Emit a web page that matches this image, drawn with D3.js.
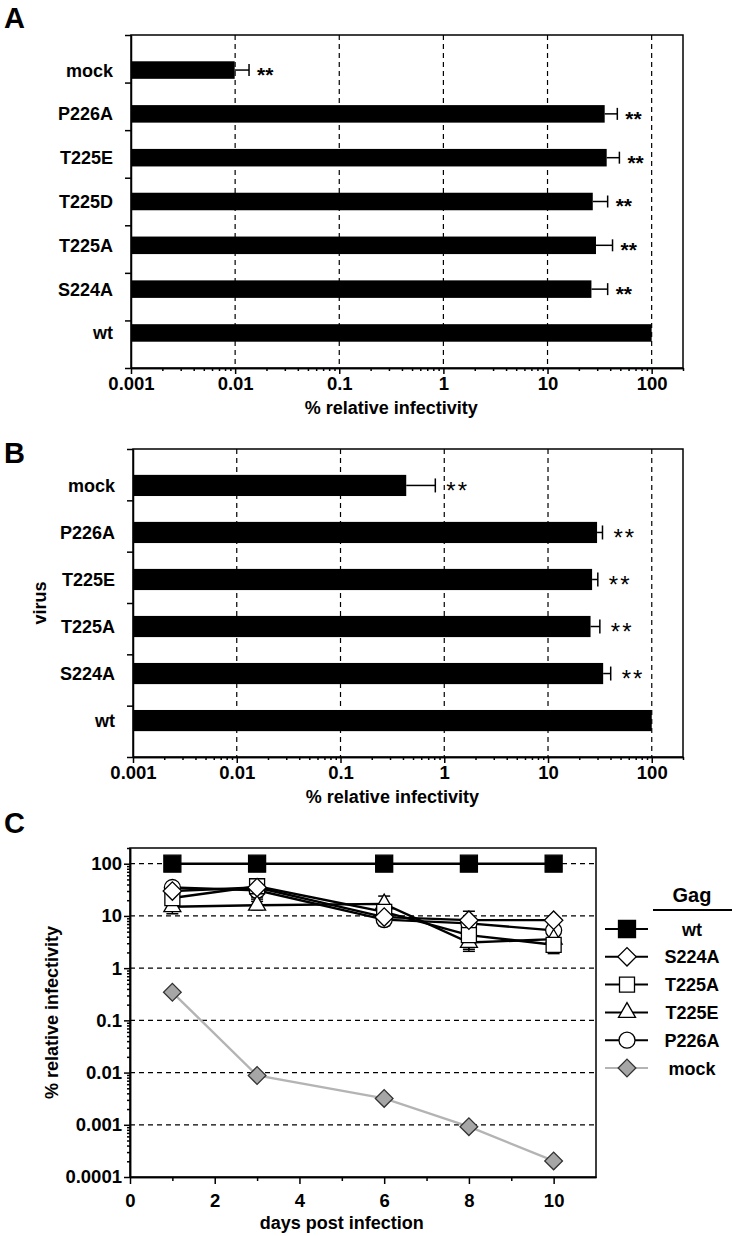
<!DOCTYPE html>
<html>
<head>
<meta charset="utf-8">
<script src="https://d3js.org/d3.v7.min.js"></script>
<style>
body { margin: 0; background: #fff; }
text { font-family: "Liberation Sans", Arial, sans-serif; font-weight: bold; fill: #000; }
</style>
</head>
<body>
<svg id="drawing_region"></svg>
<script>
// ---- panel A data
const categoriesA = ['mock', 'P226A', 'T225E', 'T225D', 'T225A', 'S224A', 'wt'];
const valuesA = [0.0099, 35.4, 37, 27.2, 29.2, 26.4, 100];
const errorsA = [0.0136, 46.8, 49, 37.8, 42.1, 37.8, null];
const starsA = ['**', '**', '**', '**', '**', '**', ''];

// ---- panel B data
const categoriesB = ['mock', 'P226A', 'T225E', 'T225A', 'S224A', 'wt'];
const valuesB = [0.43, 29.7, 26.6, 25.7, 34, 100];
const errorsB = [0.82, 33.5, 30.2, 31.6, 40.2, null];
const starsB = ['**', '**', '**', '**', '**', ''];

const barTicks = [0.001, 0.01, 0.1, 1, 10, 100];
const barTickLabels = ['0.001', '0.01', '0.1', '1', '10', '100'];

// ---- panel C data
const days = [1, 3, 6, 8, 10];
const gagNames = ['wt', 'S224A', 'T225A', 'T225E', 'P226A', 'mock'];
const wtValues = [100, 100, 100, 100, 100];
const s224aValues = [30, 35, 9.5, 8.3, 8.3];
const t225aValues = [22, 37, 12, 4.3, 2.8];
const t225eValues = [15, 16, 17, 3.1, 3.6];
const p226aValues = [35, 31, 8.5, 7.2, 5.3];
const mockValues = [0.345, 0.0088, 0.0032, 0.00092, 0.000203];
const s224aSd = [3, 5, 2, 4, 1];
const t225aSd = [5, 14, 3, 2, 0.9];
const t225eSd = [4, 3, 7, 1, 1];
const p226aSd = [5, 10, 2, 2, 1];
const dayTicks = [0, 2, 4, 6, 8, 10];
const lineTicks = [0.0001, 0.001, 0.01, 0.1, 1, 10, 100];
const lineTickLabels = ['0.0001', '0.001', '0.01', '0.1', '1', '10', '100'];

const svg = d3.select('#drawing_region')
    .attr('width', 736)
    .attr('height', 1236);

function minorLogTicks(lo, hi) {
    let out = [];
    for (let e = Math.floor(Math.log10(lo)); e <= Math.ceil(Math.log10(hi)); e++) {
        for (let k = 2; k <= 9; k++) {
            const v = k * Math.pow(10, e);
            if (v > lo && v <= hi * 1.0001) out.push(v);
        }
    }
    return out;
}

class BarChart {
    constructor(config, data) {
        this.config = config;
        this.data = data;
        this.init();
    }

    init() {
        let self = this;
        const c = self.config;
        self.chart = svg.append('g');

        self.xscale = d3.scaleLog()
            .domain([0.001, 200])
            .range([c.left, c.right]);

        self.yscale = d3.scaleBand()
            .domain(self.data.map(d => d.label))
            .range([c.top, c.bottom])
            .padding(c.padding);

        self.yedges = d3.scaleLinear()
            .domain([0, self.data.length])
            .range([c.top, c.bottom]);
    }

    render() {
        let self = this;
        const c = self.config;
        const g = self.chart;

        // dashed grid
        g.selectAll('.grid')
            .data(barTicks.slice(1))
            .enter()
            .append('line')
            .attr('x1', d => self.xscale(d))
            .attr('x2', d => self.xscale(d))
            .attr('y1', c.top)
            .attr('y2', c.bottom)
            .attr('stroke', '#000')
            .attr('stroke-width', 1.2)
            .attr('stroke-dasharray', '5,4');

        // frame
        g.append('rect')
            .attr('x', c.left).attr('y', c.top)
            .attr('width', c.right - c.left).attr('height', c.bottom - c.top)
            .attr('fill', 'none').attr('stroke', '#000').attr('stroke-width', 1.5);

        // bars
        g.selectAll('.bar')
            .data(self.data)
            .enter()
            .append('rect')
            .attr('x', c.left)
            .attr('y', d => self.yscale(d.label))
            .attr('width', d => self.xscale(d.value) - c.left)
            .attr('height', self.yscale.bandwidth())
            .attr('fill', '#000');

        const yc = d => self.yscale(d.label) + self.yscale.bandwidth() / 2;
        const withErr = self.data.filter(d => d.err != null);

        g.selectAll('.err')
            .data(withErr)
            .enter()
            .append('line')
            .attr('x1', d => self.xscale(d.value))
            .attr('x2', d => self.xscale(d.err))
            .attr('y1', yc).attr('y2', yc)
            .attr('stroke', '#000').attr('stroke-width', 1.5);

        g.selectAll('.cap')
            .data(withErr)
            .enter()
            .append('line')
            .attr('x1', d => self.xscale(d.err))
            .attr('x2', d => self.xscale(d.err))
            .attr('y1', d => yc(d) - c.capH / 2)
            .attr('y2', d => yc(d) + c.capH / 2)
            .attr('stroke', '#000').attr('stroke-width', 1.5);

        g.selectAll('.star')
            .data(withErr)
            .enter()
            .append('text')
            .attr('x', d => self.xscale(d.err) + c.starGap)
            .attr('y', d => yc(d) + c.starSize * 0.57)
            .attr('font-size', c.starSize)
            .style('font-weight', c.starWeight)
            .attr('letter-spacing', c.starSpacing)
            .text(d => d.star);

        // y labels
        g.selectAll('.ylabel')
            .data(self.data)
            .enter()
            .append('text')
            .attr('x', c.left - 18)
            .attr('y', d => yc(d) + 6.5)
            .attr('text-anchor', 'end')
            .attr('font-size', 18)
            .text(d => d.label);

        // axes
        const yaxis = d3.axisLeft(self.yedges)
            .tickValues(d3.range(0, self.data.length + 1))
            .tickFormat('')
            .tickSize(6)
            .tickSizeOuter(0);
        g.append('g')
            .attr('transform', `translate(${c.left},0)`)
            .call(yaxis);

        const xminor = d3.axisBottom(self.xscale)
            .tickValues(minorLogTicks(0.001, 200))
            .tickFormat('')
            .tickSize(3)
            .tickSizeOuter(0);
        g.append('g')
            .attr('transform', `translate(0,${c.bottom})`)
            .call(xminor);

        const xaxis = d3.axisBottom(self.xscale)
            .tickValues(barTicks)
            .tickFormat((d, i) => barTickLabels[i])
            .tickSize(6)
            .tickPadding(3)
            .tickSizeOuter(0);
        const xg = g.append('g')
            .attr('transform', `translate(0,${c.bottom})`)
            .call(xaxis);
        xg.selectAll('text')
            .attr('font-size', 18.5)
            .attr('font-family', null);

        g.selectAll('.domain, .tick line')
            .attr('stroke', '#000')
            .attr('stroke-width', 1.5);

        g.append('text')
            .attr('x', self.xscale(Math.sqrt(0.001 * 100)))
            .attr('y', c.bottom + 46)
            .attr('text-anchor', 'middle')
            .attr('font-size', 18)
            .text('% relative infectivity');

        g.append('text')
            .attr('x', 4)
            .attr('y', c.labelY)
            .attr('font-size', 29)
            .text(c.name);

        if (c.ytitle) {
            g.append('text')
                .attr('transform', `translate(46,${(c.top + c.bottom) / 2}) rotate(-90)`)
                .attr('text-anchor', 'middle')
                .attr('font-size', 18)
                .text(c.ytitle);
        }
    }
}

const dataA = categoriesA.map((d, i) => ({label: d, value: valuesA[i], err: errorsA[i], star: starsA[i]}));
const dataB = categoriesB.map((d, i) => ({label: d, value: valuesB[i], err: errorsB[i], star: starsB[i]}));

new BarChart({name: 'A', labelY: 28, left: 131, right: 683, top: 35, bottom: 368,
    padding: 0.6, capH: 12, starGap: 8, starSize: 21, starWeight: 'bold', starSpacing: 0}, dataA).render();

new BarChart({name: 'B', labelY: 463, ytitle: 'virus', left: 133, right: 683, top: 449, bottom: 757,
    padding: 0.55, capH: 14, starGap: 11, starSize: 24, starWeight: 'normal', starSpacing: 2}, dataB).render();

// ---- panel C
const series = [
    {name: 'wt', values: wtValues, sd: null, shape: 'square', size: 17, fill: '#000', line: '#000'},
    {name: 'S224A', values: s224aValues, sd: s224aSd, shape: 'diamond', size: 13, fill: '#fff', line: '#000'},
    {name: 'T225A', values: t225aValues, sd: t225aSd, shape: 'square', size: 15, fill: '#fff', line: '#000'},
    {name: 'T225E', values: t225eValues, sd: t225eSd, shape: 'triangle', size: 17, fill: '#fff', line: '#000'},
    {name: 'P226A', values: p226aValues, sd: p226aSd, shape: 'circle', size: 16, fill: '#fff', line: '#000'},
    {name: 'mock', values: mockValues, sd: null, shape: 'diamond', size: 12.5, fill: '#a6a6a6', line: '#b4b4b4'}
];

function markerPath(s) {
    if (s.shape === 'square' || s.shape === 'diamond')
        return d3.symbol(d3.symbolSquare, s.size * s.size)();
    if (s.shape === 'circle')
        return d3.symbol(d3.symbolCircle, Math.PI * s.size * s.size / 4)();
    return d3.symbol(d3.symbolTriangle, Math.sqrt(3) / 4 * s.size * s.size)();
}

const cc = {left: 130, right: 596, top: 848, bottom: 1177};
const gc = svg.append('g');
const xC = d3.scaleLinear().domain([0, 11]).range([cc.left, cc.right]);
const yC = d3.scaleLog().domain([0.0001, 200]).range([cc.bottom, cc.top]);

gc.selectAll('.grid')
    .data(lineTicks.slice(1))
    .enter()
    .append('line')
    .attr('x1', cc.left).attr('x2', cc.right)
    .attr('y1', d => yC(d)).attr('y2', d => yC(d))
    .attr('stroke', '#000').attr('stroke-width', 1.2)
    .attr('stroke-dasharray', '5,4');

gc.append('rect')
    .attr('x', cc.left).attr('y', cc.top)
    .attr('width', cc.right - cc.left).attr('height', cc.bottom - cc.top)
    .attr('fill', 'none').attr('stroke', '#000').attr('stroke-width', 1.5);

const line = d3.line()
    .x((d, i) => xC(days[i]))
    .y(d => yC(d));

// mock first, underneath
[...series].reverse().forEach(s => {
    gc.append('path')
        .attr('d', line(s.values))
        .attr('fill', 'none')
        .attr('stroke', s.line)
        .attr('stroke-width', 2.4);
});

series.filter(s => s.sd).forEach(s => {
    s.values.forEach((v, i) => {
        const hi = v + s.sd[i];
        const lo = Math.max(v - s.sd[i], 0.0001);
        const x = xC(days[i]);
        gc.append('line')
            .attr('x1', x).attr('x2', x)
            .attr('y1', yC(lo)).attr('y2', yC(hi))
            .attr('stroke', '#000').attr('stroke-width', 1.5);
        [lo, hi].forEach(e => {
            gc.append('line')
                .attr('x1', x - 6).attr('x2', x + 6)
                .attr('y1', yC(e)).attr('y2', yC(e))
                .attr('stroke', '#000').attr('stroke-width', 1.5);
        });
    });
});

[...series].reverse().forEach(s => {
    gc.selectAll(null)
        .data(s.values)
        .enter()
        .append('path')
        .attr('d', markerPath(s))
        .attr('transform', (d, i) => `translate(${xC(days[i])},${yC(d)})` + (s.shape === 'diamond' ? ' rotate(45)' : ''))
        .attr('fill', s.fill)
        .attr('stroke', s.name === 'mock' ? '#333' : '#000')
        .attr('stroke-width', 1.3);
});

// axes C
gc.append('g')
    .attr('transform', `translate(${cc.left},0)`)
    .call(d3.axisLeft(yC).tickValues(minorLogTicks(0.0001, 200)).tickFormat('').tickSize(3).tickSizeOuter(0));
gc.append('g')
    .attr('transform', `translate(${cc.left},0)`)
    .call(d3.axisLeft(yC).tickValues(lineTicks).tickFormat((d, i) => lineTickLabels[i]).tickSize(6).tickPadding(2).tickSizeOuter(0));
gc.append('g')
    .attr('transform', `translate(0,${cc.bottom})`)
    .call(d3.axisBottom(xC).tickValues([1, 3, 5, 7, 9]).tickFormat('').tickSize(4).tickSizeOuter(0));
gc.append('g')
    .attr('transform', `translate(0,${cc.bottom})`)
    .call(d3.axisBottom(xC).tickValues(dayTicks).tickFormat(d => d).tickSize(7).tickPadding(10).tickSizeOuter(0));
gc.selectAll('.tick text').attr('font-size', 18.5).attr('font-family', null);
gc.selectAll('.domain, .tick line').attr('stroke', '#000').attr('stroke-width', 1.5);

gc.append('text')
    .attr('x', xC(5)).attr('y', 1229)
    .attr('text-anchor', 'middle').attr('font-size', 18)
    .text('days post infection');

gc.append('text')
    .attr('transform', `translate(58,${(cc.top + cc.bottom) / 2}) rotate(-90)`)
    .attr('text-anchor', 'middle').attr('font-size', 18)
    .text('% relative infectivity');

gc.append('text')
    .attr('x', 4).attr('y', 833)
    .attr('font-size', 29)
    .text('C');

// legend
const legend = gc.append('g');
legend.append('text')
    .attr('x', 692).attr('y', 902)
    .attr('text-anchor', 'middle').attr('font-size', 20)
    .text('Gag');
legend.append('line')
    .attr('x1', 653).attr('x2', 732).attr('y1', 910).attr('y2', 910)
    .attr('stroke', '#000').attr('stroke-width', 1.8);

const ly = d3.scalePoint().domain(gagNames).range([929, 1068]);
series.forEach(s => {
    const y = ly(s.name);
    legend.append('line')
        .attr('x1', 605).attr('x2', 648).attr('y1', y).attr('y2', y)
        .attr('stroke', s.line).attr('stroke-width', 2);
    legend.append('path')
        .attr('d', markerPath(s))
        .attr('transform', `translate(627,${y})` + (s.shape === 'diamond' ? ' rotate(45)' : ''))
        .attr('fill', s.fill)
        .attr('stroke', s.name === 'mock' ? '#333' : '#000')
        .attr('stroke-width', 1.3);
    legend.append('text')
        .attr('x', 692).attr('y', y + 6.5)
        .attr('text-anchor', 'middle').attr('font-size', 18)
        .text(s.name);
});
</script>
</body>
</html>
